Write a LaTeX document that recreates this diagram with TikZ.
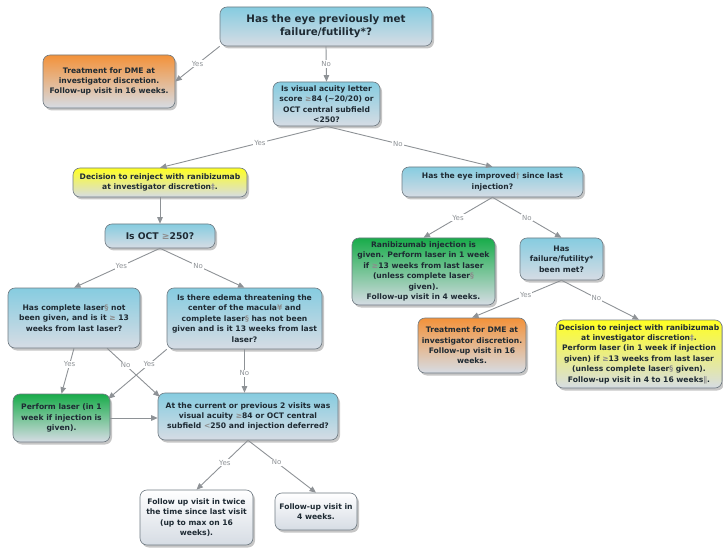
\documentclass[tikz,border=0pt]{standalone}
\usepackage{fontspec}
\setmainfont{DejaVu Sans}
\usetikzlibrary{arrows.meta,shadows,calc}
\definecolor{ink}{HTML}{1E2A33}
\definecolor{edge}{HTML}{8E9296}
\definecolor{frame}{HTML}{6F7A82}
\definecolor{skytop}{HTML}{86CCE0}
\definecolor{base}{HTML}{D6DCE4}
\definecolor{orangetop}{HTML}{F3923A}
\definecolor{yellowtop}{HTML}{FFFF22}
\definecolor{greentop}{HTML}{18AC4A}
\newcommand{\fm}[1]{\textcolor{black!45}{#1}}

\begin{document}
\begin{tikzpicture}[x=1pt,y=-1pt,
  box/.style={draw=frame,line width=0.6pt,rounded corners=7pt,align=center,text=ink,
              font=\bfseries\fontsize{7.6}{10.4}\selectfont,inner sep=2pt,
              drop shadow={shadow xshift=2pt,shadow yshift=-2.5pt,opacity=0.45},
              bottom color=base},
  blu/.style={box,top color=skytop},
  ora/.style={box,top color=orangetop},
  yel/.style={box,top color=yellowtop},
  grn/.style={box,top color=greentop},
  wht/.style={box,top color=white},
  link/.style={draw=edge,line width=0.9pt},
  lbl/.style={font=\fontsize{7}{8}\selectfont,text=edge,fill=white,inner sep=1pt},
  >={Triangle[length=6.5pt,width=5.5pt]}]
\useasboundingbox (0,0) rectangle (723,548);

\node[blu,minimum width=212pt,minimum height=39pt,font=\bfseries\fontsize{10.3}{13}\selectfont]
  (top) at (326,26.5) {Has the eye previously met\\failure/futility*?};
\node[ora,minimum width=132pt,minimum height=53pt] (ortl) at (109,81.5)
  {Treatment for DME at\\investigator discretion.\\Follow-up visit in 16 weeks.};
\node[blu,minimum width=107pt,minimum height=44pt] (va) at (326.5,104)
  {Is visual acuity letter\\score \fm{≥}84 (\textasciitilde20/20) or\\OCT central subfield\\<250?};
\node[yel,minimum width=174pt,minimum height=29pt] (reinj) at (160,182.5)
  {Decision to reinject with ranibizumab\\at investigator discretion\fm{‡}.};
\node[blu,minimum width=181pt,minimum height=30pt] (impr) at (492.5,182)
  {Has the eye improved\fm{†} since last\\injection?};
\node[blu,minimum width=110pt,minimum height=24pt,font=\bfseries\fontsize{9.2}{11}\selectfont]
  (oct) at (160,236) {Is OCT \fm{≥}250?};
\node[grn,minimum width=143pt,minimum height=67pt] (inj) at (423.5,271.5)
  {Ranibizumab injection is\\given. Perform laser in 1 week\\if \fm{≥}13 weeks from last laser\\(unless complete laser\fm{§}\\given).\\Follow-up visit in 4 weeks.};
\node[blu,minimum width=83pt,minimum height=42pt] (ff) at (561.5,259)
  {Has\\failure/futility*\\been met?};
\node[blu,minimum width=132pt,minimum height=60pt] (cmpl) at (74,318)
  {Has complete laser\fm{§} not\\been given, and is it \fm{≥} 13\\weeks from last laser?};
\node[blu,minimum width=155pt,minimum height=61pt] (edema) at (244.5,318.5)
  {Is there edema threatening the\\center of the macula\fm{¥} and\\complete laser\fm{§} has not been\\given and is it 13 weeks from last\\laser?};
\node[ora,minimum width=108pt,minimum height=55pt] (orrt) at (472,345.5)
  {Treatment for DME at\\investigator discretion.\\Follow-up visit in 16\\weeks.};
\node[yel,minimum width=166pt,minimum height=68pt] (reinjr) at (639,354)
  {Decision to reinject with ranibizumab\\at investigator discretion\fm{‡}.\\Perform laser (in 1 week if injection\\given) if \fm{≥}13 weeks from last laser\\(unless complete laser\fm{§} given).\\Follow-up visit in 4 to 16 weeks\fm{∥}.};
\node[grn,minimum width=97pt,minimum height=48pt] (laser) at (61.5,418)
  {Perform laser (in 1\\week if injection is\\given).};
\node[blu,minimum width=180pt,minimum height=47pt] (prev) at (248,416.5)
  {At the current or previous 2 visits was\\visual acuity \fm{≥}84 or OCT central\\subfield \fm{<}250 and injection deferred?};
\node[wht,minimum width=113pt,minimum height=55pt] (twice) at (196.5,517.5)
  {Follow up visit in twice\\the time since last visit\\(up to max on 16\\weeks).};
\node[wht,minimum width=82pt,minimum height=37pt] (four) at (316,511.5)
  {Follow-up visit in\\4 weeks.};

\draw[->,link] (top.south west) -- node[lbl] (l1) {Yes} (ortl.east);
\draw[->,link] (top.south) -- node[lbl] (l2) {No} (va.north);
\draw[->,link] (va.south) -- node[lbl,pos=.4] (l3) {Yes} (reinj.north);
\draw[->,link] (va.south) -- node[lbl,pos=.43] (l4) {No} (impr.north);
\draw[->,link] (reinj.south) -- (oct.north);
\draw[->,link] (oct.south) -- node[lbl,pos=.45] (l5) {Yes} (cmpl.north);
\draw[->,link] (oct.south) -- node[lbl,pos=.45] (l6) {No} (edema.north);
\draw[->,link] (impr.south) -- node[lbl] (l7) {Yes} (inj.north);
\draw[->,link] (impr.south) -- node[lbl] (l8) {No} (ff.north);
\draw[->,link] (ff.south) -- node[lbl,pos=.4] (l9) {Yes} (orrt.north);
\draw[->,link] (ff.south) -- node[lbl,pos=.45] (l10) {No} (reinjr.north);
\draw[->,link] (cmpl.south) -- node[lbl,pos=.35] (l11) {Yes} (laser.north);
\draw[->,link] ($(cmpl.south)!.5!(cmpl.south east)$) -- node[lbl,pos=.35] (l12) {No} ([shift={(2,4)}]prev.north west);
\draw[->,link] (edema.south west) -- node[lbl,pos=.3] (l13) {Yes} ([shift={(-2,5)}]laser.north east);
\draw[->,link] (edema.south) -- node[lbl,pos=.55] (l14) {No} (edema.south |- prev.north);
\draw[->,link] (laser.east) -- (laser.east -| prev.west);
\draw[->,link] (prev.south) -- node[lbl,pos=.45] (l15) {Yes} (twice.north);
\draw[->,link] (prev.south) -- node[lbl,pos=.42] (l16) {No} (four.north);
\end{tikzpicture}
\end{document}
